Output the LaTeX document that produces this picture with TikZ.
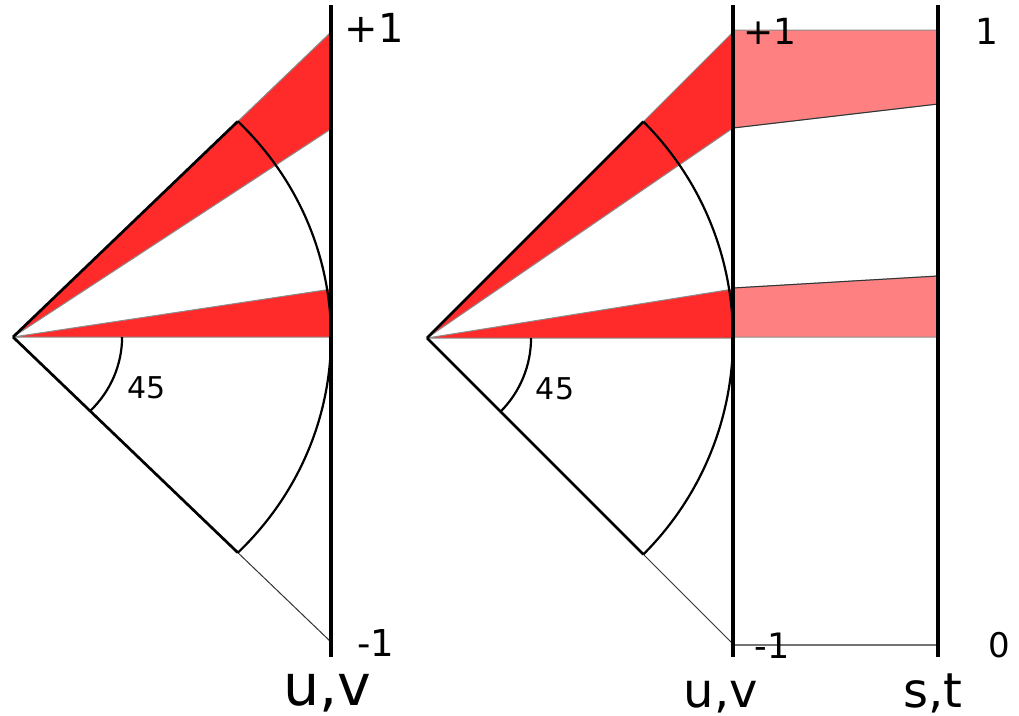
\documentclass[tikz,border=0pt]{standalone}
\usepackage{fontspec}
\setmainfont{DejaVu Sans}
\definecolor{wedgered}{RGB}{255,42,42}
\definecolor{bandpink}{RGB}{255,128,128}
\begin{document}
\begin{tikzpicture}[x=1pt,y=-1pt,
  wedge/.style={fill=wedgered,draw=black!45,line width=1pt,line join=round},
  band/.style={fill=bandpink,draw=black!45,line width=1pt,line join=round},
  axisline/.style={line width=3.6pt},
  ray/.style={line width=2.7pt},
  thinray/.style={line width=1pt,draw=black!80},
  arcline/.style={line width=2.2pt},
  lbl/.style={inner sep=0pt}]
\useasboundingbox (0,0) rectangle (1019,715);
% ---------- left diagram ----------
\begin{scope}[shift={(13pt,-337pt)},x=318pt,y=305pt]
  \coordinate (LA) at (0,0);
  \coordinate (LT) at (1,1);
  \coordinate (LB) at (1,-1);
  \coordinate (LUw) at (1,0.682);
  \coordinate (LLw) at (1,0.157);
  \coordinate (LM) at (1,0);
  \coordinate (LAu) at (0.7071,0.7071);
  \coordinate (LAd) at (0.7071,-0.7071);
  \coordinate (LSa) at (0.343,0);
  \filldraw[wedge] (LA) -- (LT) -- (LUw) -- cycle;
  \filldraw[wedge] (LA) -- (LLw) -- (LM) -- cycle;
  \draw[ray] (LA) -- (LAu);
  \draw[ray] (LA) -- (LAd);
  \draw[thinray] (LAd) -- (LB);
  \draw[arcline] (LAd) arc[start angle=-45,end angle=45,radius=1];
  \draw[arcline] (LSa) arc[start angle=0,end angle=-45,radius=0.343];
\end{scope}
\coordinate (LVt) at (331,5);
\coordinate (LVb) at (331,657);
\draw[axisline] (LVt) -- (LVb);
\node[lbl,font=\fontsize{40}{40}\selectfont] (lp1) at (374,28) {+1};
\node[lbl,font=\fontsize{37}{37}\selectfont] (lm1) at (376,643) {-1};
\node[lbl,font=\fontsize{30}{30}\selectfont] (l45) at (147,388) {45};
\node[lbl,anchor=base,font=\fontsize{57}{57}\selectfont] (luv) at (327,705) {u,v};
% ---------- right diagram ----------
\coordinate (P1) at (733,30);
\coordinate (P2) at (938,30);
\coordinate (P3) at (938,104);
\coordinate (P4) at (733,128);
\coordinate (Q1) at (733,288);
\coordinate (Q2) at (938,276);
\coordinate (Q3) at (938,337);
\coordinate (Q4) at (733,337);
\filldraw[band] (P1) -- (P2) -- (P3) -- (P4) -- cycle;
\filldraw[band] (Q1) -- (Q2) -- (Q3) -- (Q4) -- cycle;
\draw[black!80,line width=1pt] (P4) -- (P3);
\draw[black!80,line width=1pt] (Q1) -- (Q2);
\begin{scope}[shift={(427pt,-338pt)},x=306pt,y=306pt]
  \coordinate (RA) at (0,0);
  \coordinate (RT) at (1,1);
  \coordinate (RB) at (1,-1);
  \coordinate (RUw) at (1,0.686);
  \coordinate (RLw) at (1,0.160);
  \coordinate (RM) at (1,0);
  \coordinate (RAu) at (0.7071,0.7071);
  \coordinate (RAd) at (0.7071,-0.7071);
  \coordinate (RSa) at (0.34,0);
  \filldraw[wedge] (RA) -- (RT) -- (RUw) -- cycle;
  \filldraw[wedge] (RA) -- (RLw) -- (RM) -- cycle;
  \draw[ray] (RA) -- (RAu);
  \draw[ray] (RA) -- (RAd);
  \draw[thinray] (RAd) -- (RB);
  \draw[arcline] (RAd) arc[start angle=-45,end angle=45,radius=1];
  \draw[arcline] (RSa) arc[start angle=0,end angle=-45,radius=0.34];
\end{scope}
\coordinate (B1) at (733,645);
\coordinate (B2) at (938,645);
\draw[black!55,line width=1.2pt] (B1) -- (B2);
\coordinate (RVt) at (733,5);
\coordinate (RVb) at (733,657);
\coordinate (SVt) at (938,5);
\coordinate (SVb) at (938,657);
\draw[axisline] (RVt) -- (RVb);
\draw[axisline] (SVt) -- (SVb);
\node[lbl,font=\fontsize{36}{36}\selectfont] (rp1) at (770,31) {+1};
\node[lbl,font=\fontsize{35}{35}\selectfont] (rm1) at (772,646) {-1};
\node[lbl,font=\fontsize{36}{36}\selectfont] (s1) at (987,31) {1};
\node[lbl,font=\fontsize{34}{34}\selectfont] (s0) at (999,645) {0};
\node[lbl,font=\fontsize{30}{30}\selectfont] (r45) at (555,389) {45};
\node[lbl,anchor=base,font=\fontsize{48}{48}\selectfont] (ruv) at (721,707) {u,v};
\node[lbl,anchor=base,font=\fontsize{48}{48}\selectfont] (rst) at (933,707) {s,t};
\end{tikzpicture}
\end{document}
